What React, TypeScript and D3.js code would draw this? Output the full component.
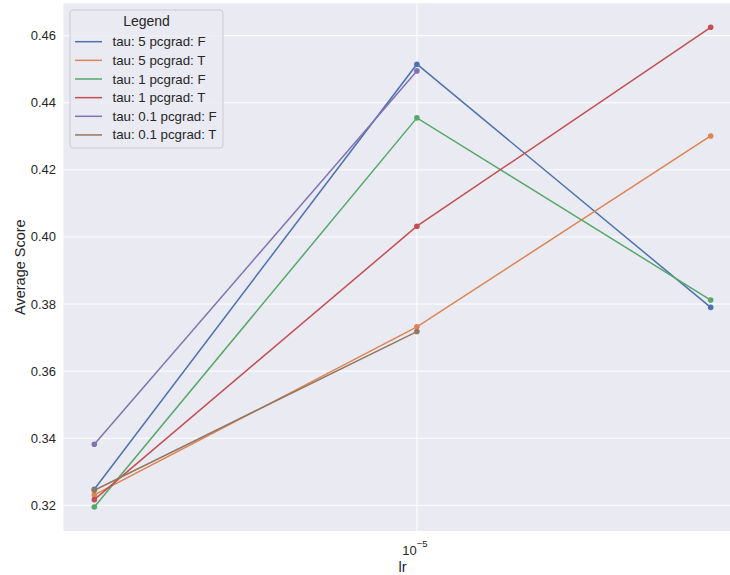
import * as d3 from "d3";
import React from "react";

// learning rates (log x axis)
const lrs = [5e-6, 1e-5, 1.88e-5];

const seriesNames = [
  "tau: 5 pcgrad: F",
  "tau: 5 pcgrad: T",
  "tau: 1 pcgrad: F",
  "tau: 1 pcgrad: T",
  "tau: 0.1 pcgrad: F",
  "tau: 0.1 pcgrad: T",
];

// average score per lr, null = no run
const tau5F = [0.3248, 0.4515, 0.379];
const tau5T = [0.3231, 0.3732, 0.4301];
const tau1F = [0.3195, 0.4355, 0.3812];
const tau1T = [0.3217, 0.4032, 0.4625];
const tau01F = [0.3382, 0.4495, null];
const tau01T = [0.3245, 0.3718, null];

const seriesValues = [tau5F, tau5T, tau1F, tau1T, tau01F, tau01T];
const colors = ["#4c72b0", "#dd8452", "#55a868", "#c44e52", "#8172b3", "#937860"];

const yTicks = [0.32, 0.34, 0.36, 0.38, 0.4, 0.42, 0.44, 0.46];
const xTicks = [1e-5];

const W = 730;
const H = 575;
const plot = { left: 63.5, right: 741.5, top: 3.3, bottom: 531 };
const font = "'Liberation Sans', Arial, sans-serif";

// matplotlib-style 5% margins
const pad = (lo: number, hi: number) => {
  const m = (hi - lo) * 0.05;
  return [lo - m, hi + m];
};

export default function App() {
  const lx = d3.extent(lrs.map((d) => Math.log10(d))) as [number, number];
  const [lx0, lx1] = pad(lx[0], lx[1]);
  const x = d3
    .scaleLog()
    .domain([Math.pow(10, lx0), Math.pow(10, lx1)])
    .range([plot.left, plot.right]);

  const allY = seriesValues.flat().filter((v) => v != null) as number[];
  const [y0, y1] = pad(d3.min(allY)!, d3.max(allY)!);
  const y = d3.scaleLinear().domain([y0, y1]).range([plot.bottom, plot.top]);

  const line = d3
    .line<number | null>()
    .defined((d) => d != null)
    .x((_, i) => x(lrs[i]))
    .y((d) => y(d as number));

  const legend = { x: 70, y: 10, w: 153, h: 138 };

  return (
    <svg
      width={W}
      height={H}
      style={{ position: "absolute", left: 0, top: 0, display: "block" }}
      fontFamily={font}
    >
      <rect x={0} y={0} width={W} height={H} fill="#ffffff" />
      <rect
        x={plot.left}
        y={plot.top}
        width={plot.right - plot.left}
        height={plot.bottom - plot.top}
        fill="#eaeaf2"
      />

      {/* grid */}
      {yTicks.map((t) => (
        <line
          key={"gy" + t}
          x1={plot.left}
          x2={plot.right}
          y1={y(t)}
          y2={y(t)}
          stroke="#ffffff"
          strokeWidth={1}
        />
      ))}
      {xTicks.map((t) => (
        <line
          key={"gx" + t}
          x1={x(t)}
          x2={x(t)}
          y1={plot.top}
          y2={plot.bottom}
          stroke="#ffffff"
          strokeWidth={1}
        />
      ))}

      {/* series */}
      {seriesValues.map((vals, si) => (
        <g key={seriesNames[si]}>
          <path d={line(vals) || ""} fill="none" stroke={colors[si]} strokeWidth={1.5} />
          {vals.map((v, i) =>
            v == null ? null : (
              <circle key={i} cx={x(lrs[i])} cy={y(v)} r={2.8} fill={colors[si]} />
            )
          )}
        </g>
      ))}

      {/* y axis */}
      {yTicks.map((t) => (
        <text
          key={"ty" + t}
          x={56}
          y={y(t)}
          textAnchor="end"
          dominantBaseline="central"
          fontSize={13}
          fill="#262626"
        >
          {d3.format(".2f")(t)}
        </text>
      ))}
      <text
        transform={`translate(${20},${(plot.top + plot.bottom) / 2}) rotate(-90)`}
        textAnchor="middle"
        dominantBaseline="central"
        fontSize={14.5}
        fill="#262626"
      >
        Average Score
      </text>

      {/* x axis */}
      {xTicks.map((t) => (
        <text key={"tx" + t} x={x(t) - 2} y={555} textAnchor="middle" fontSize={13} fill="#262626">
          10
          <tspan dy={-8} fontSize={9.5}>
            −5
          </tspan>
        </text>
      ))}
      <text
        x={(plot.left + plot.right) / 2}
        y={572}
        textAnchor="middle"
        fontSize={14.5}
        fill="#262626"
      >
        lr
      </text>

      {/* legend */}
      <rect
        x={legend.x}
        y={legend.y}
        width={legend.w}
        height={legend.h}
        rx={3}
        fill="#eaeaf2"
        fillOpacity={0.8}
        stroke="#cccccc"
        strokeWidth={1}
      />
      <text
        x={legend.x + legend.w / 2}
        y={26}
        textAnchor="middle"
        fontSize={14}
        fill="#262626"
      >
        Legend
      </text>
      {seriesNames.map((name, i) => {
        const ly = 41.7 + i * 18.65;
        return (
          <g key={"lg" + name}>
            <line x1={75} x2={102} y1={ly} y2={ly} stroke={colors[i]} strokeWidth={1.5} />
            <text
              x={112.5}
              y={ly}
              dominantBaseline="central"
              fontSize={13.3}
              fill="#262626"
            >
              {name}
            </text>
          </g>
        );
      })}
    </svg>
  );
}
